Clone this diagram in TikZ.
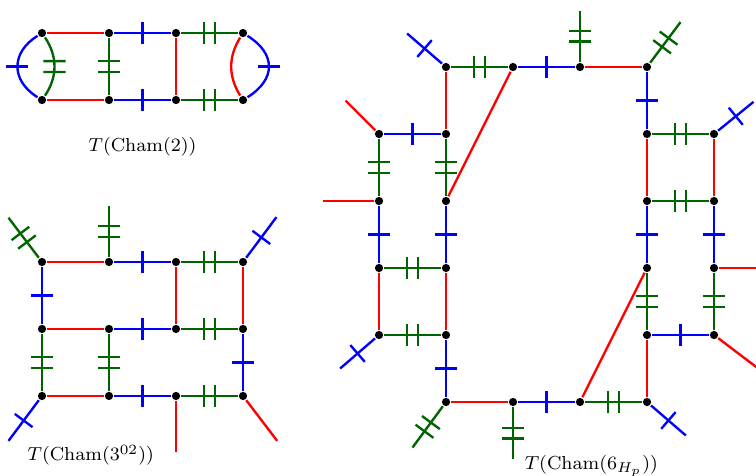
\documentclass[tikz,border=0pt]{standalone}
\usepackage[svgnames]{xcolor}
\usepackage{tikz}
\usetikzlibrary{decorations.markings}

\tikzset{
  vert/.style={circle,fill=black,inner sep=0pt,minimum size=3.5pt},
  redE/.style={draw=red},
  blueE/.style={draw=blue,postaction={decorate,decoration={markings,
    mark=at position 0.5 with {\draw[blue] (0,-4.7pt) -- (0,4.7pt);}}}},
  greenE/.style={draw=DarkGreen,postaction={decorate,decoration={markings,
    mark=at position 0.5 with {\draw[DarkGreen] (-2.3pt,-4.7pt) -- (-2.3pt,4.7pt) (2.3pt,-4.7pt) -- (2.3pt,4.7pt);}}}},
  lbl/.style={anchor=base,font=\footnotesize}
}

\begin{document}
\begin{tikzpicture}[line width=1pt]
\useasboundingbox (0,0) rectangle (11.284,-7.090);

% Cham(2)
\begin{scope}[shift={(0.627,-0.493)}]
\foreach \i in {0,...,3}
  \foreach \j in {0,1}
    \node[vert] (a\i\j) at (\i,-\j) {};
\draw[redE] (a00) -- (a10);
\draw[redE] (a01) -- (a11);
\draw[redE] (a20) -- (a21);
\draw[blueE] (a10) -- (a20);
\draw[blueE] (a11) -- (a21);
\draw[greenE] (a20) -- (a30);
\draw[greenE] (a21) -- (a31);
\draw[greenE] (a10) -- (a11);
\draw[blueE] (a00) to[out=-148,in=148,looseness=1.32] (a01);
\draw[greenE] (a00) to[out=-56,in=56] (a01);
\draw[redE] (a30) to[out=-122,in=122] (a31);
\draw[blueE] (a30) to[out=-32,in=32,looseness=1.41] (a31);
\node[lbl] (lab1) at (1.5,-1.771) {$T(\mathrm{Cham}(2))$};
\end{scope}

% Cham(3^02)
\begin{scope}[shift={(0.627,-3.910)}]
\foreach \i in {0,...,3}
  \foreach \j in {0,1,2}
    \node[vert] (b\i\j) at (\i,-\j) {};
\foreach \j in {0,1,2} {
  \draw[redE] (b0\j) -- (b1\j);
  \draw[blueE] (b1\j) -- (b2\j);
  \draw[greenE] (b2\j) -- (b3\j);
}
\draw[blueE] (b00) -- (b01);
\draw[greenE] (b01) -- (b02);
\draw[greenE] (b11) -- (b12);
\draw[redE] (b20) -- (b21);
\draw[redE] (b30) -- (b31);
\draw[blueE] (b31) -- (b32);
\path (b00) ++(-0.5,0.66) coordinate (b00x);
\path (b10) ++(0,0.83) coordinate (b10x);
\path (b30) ++(0.5,0.67) coordinate (b30x);
\path (b02) ++(-0.5,-0.67) coordinate (b02x);
\path (b22) ++(0,-0.83) coordinate (b22x);
\path (b32) ++(0.51,-0.67) coordinate (b32x);
\draw[greenE] (b00) -- (b00x);
\draw[greenE] (b10) -- (b10x);
\draw[blueE] (b30) -- (b30x);
\draw[blueE] (b02) -- (b02x);
\draw[redE] (b22) -- (b22x);
\draw[redE] (b32) -- (b32x);
\node[lbl] (lab2) at (0.727,-2.97) {$T(\mathrm{Cham}(3^{02}))$};
\end{scope}

% Cham(6_{H_p})
\begin{scope}[shift={(5.657,-1)}]
\foreach \i in {1,...,4} {
  \node[vert] (c\i0) at (\i,0) {};
  \node[vert] (c\i5) at (\i,-5) {};
}
\foreach \i in {0,1,4,5}
  \foreach \j in {1,...,4}
    \node[vert] (c\i\j) at (\i,-\j) {};
\draw[greenE] (c10) -- (c20);
\draw[blueE] (c20) -- (c30);
\draw[redE] (c30) -- (c40);
\draw[redE] (c15) -- (c25);
\draw[blueE] (c25) -- (c35);
\draw[greenE] (c35) -- (c45);
\draw[redE] (c10) -- (c11);
\draw[redE] (c20) -- (c12);
\draw[redE] (c35) -- (c43);
\draw[blueE] (c40) -- (c41);
\draw[blueE] (c14) -- (c15);
\draw[redE] (c44) -- (c45);
\draw[blueE] (c01) -- (c11);
\draw[greenE] (c03) -- (c13);
\draw[greenE] (c04) -- (c14);
\draw[greenE] (c41) -- (c51);
\draw[greenE] (c42) -- (c52);
\draw[blueE] (c44) -- (c54);
\foreach \i in {0,1} {
  \draw[greenE] (c\i1) -- (c\i2);
  \draw[blueE] (c\i2) -- (c\i3);
  \draw[redE] (c\i3) -- (c\i4);
}
\foreach \i in {4,5} {
  \draw[redE] (c\i1) -- (c\i2);
  \draw[blueE] (c\i2) -- (c\i3);
  \draw[greenE] (c\i3) -- (c\i4);
}
\path (c10) ++(-0.58,0.5) coordinate (c10x);
\path (c30) ++(0,0.84) coordinate (c30x);
\path (c40) ++(0.5,0.67) coordinate (c40x);
\path (c01) ++(-0.5,0.5) coordinate (c01x);
\path (c02) ++(-0.84,0) coordinate (c02x);
\path (c04) ++(-0.58,-0.5) coordinate (c04x);
\path (c15) ++(-0.5,-0.68) coordinate (c15x);
\path (c25) ++(0,-0.85) coordinate (c25x);
\path (c45) ++(0.58,-0.5) coordinate (c45x);
\path (c51) ++(0.59,0.48) coordinate (c51x);
\path (c53) ++(0.84,0) coordinate (c53x);
\path (c54) ++(0.66,-0.5) coordinate (c54x);
\draw[blueE] (c10) -- (c10x);
\draw[greenE] (c30) -- (c30x);
\draw[greenE] (c40) -- (c40x);
\draw[redE] (c01) -- (c01x);
\draw[redE] (c02) -- (c02x);
\draw[blueE] (c04) -- (c04x);
\draw[greenE] (c15) -- (c15x);
\draw[greenE] (c25) -- (c25x);
\draw[blueE] (c45) -- (c45x);
\draw[blueE] (c51) -- (c51x);
\draw[redE] (c53) -- (c53x);
\draw[redE] (c54) -- (c54x);
\node[lbl] (lab3) at (3.169,-6.004) {$T(\mathrm{Cham}(6_{H_p}))$};
\end{scope}
\end{tikzpicture}
\end{document}
